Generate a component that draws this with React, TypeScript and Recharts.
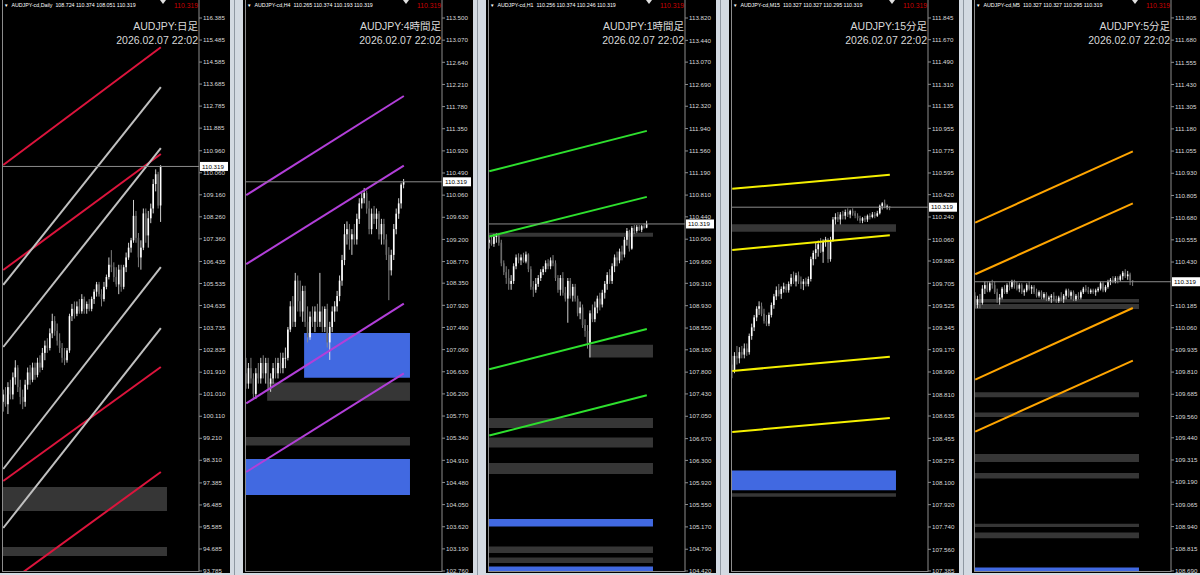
import { ComposedChart, Bar, XAxis, YAxis, ReferenceLine, ReferenceArea } from 'recharts'

type Candle = [number, number, number, number] // open, high, low, close
type Seg = [number, number, number, number] // fromIndex, fromPrice, toIndex, toPrice
type Zone = [number, number, number, number] // fromIndex, toIndex, low, high

const SLOTS = 80
const FONT = "'Liberation Sans', Arial, sans-serif"

// ---------- Daily ----------
const dailyCandles: Candle[] = [
  [100.7, 101.2, 100.3, 101.0], [101.0, 101.3, 100.5, 100.6], [100.6, 101.5, 100.2, 101.3], [101.3, 101.6, 100.8, 101.0],
  [101.0, 101.9, 100.8, 101.7], [101.7, 102.4, 101.4, 102.1], [102.1, 102.2, 101.1, 101.3], [101.3, 101.6, 100.6, 100.9],
  [100.9, 101.2, 100.4, 100.7], [100.7, 101.6, 100.5, 101.4], [101.4, 102.1, 101.2, 101.9], [101.9, 102.2, 101.4, 101.6],
  [101.6, 102.3, 101.5, 102.1], [102.1, 102.3, 101.6, 101.8], [101.8, 102.5, 101.7, 102.3], [102.3, 102.6, 101.9, 102.1],
  [102.1, 102.9, 102.0, 102.7], [102.7, 103.2, 102.4, 103.0], [103.0, 103.3, 102.7, 102.9], [102.9, 103.7, 102.8, 103.5],
  [103.5, 104.3, 103.3, 104.0], [104.0, 104.2, 103.4, 103.6], [103.6, 103.9, 103.0, 103.2], [103.2, 103.5, 102.7, 102.9],
  [102.9, 103.1, 102.3, 102.5], [102.5, 102.9, 102.2, 102.4], [102.4, 102.9, 102.3, 102.8], [102.8, 104.3, 102.7, 104.2],
  [104.2, 104.7, 104.0, 104.5], [104.5, 104.8, 104.1, 104.3], [104.3, 104.8, 104.2, 104.6], [104.6, 104.9, 104.3, 104.4],
  [104.4, 105.1, 104.3, 104.9], [104.9, 105.0, 104.3, 104.5], [104.5, 104.8, 104.3, 104.7], [104.7, 104.9, 104.4, 104.5],
  [104.5, 105.0, 104.4, 104.9], [104.9, 105.3, 104.7, 105.2], [105.2, 105.6, 105.0, 105.5], [105.5, 105.6, 105.0, 105.1],
  [105.1, 105.3, 104.6, 104.9], [104.9, 105.6, 104.8, 105.4], [105.4, 105.9, 105.3, 105.8], [105.8, 106.6, 105.7, 106.3],
  [106.3, 106.9, 106.0, 106.2], [106.2, 106.4, 105.6, 105.8], [105.8, 106.2, 105.4, 105.5], [105.5, 106.3, 105.1, 106.1],
  [106.1, 106.3, 105.2, 105.4], [105.4, 106.3, 105.3, 106.2], [106.2, 106.8, 106.0, 106.6], [106.6, 107.2, 106.5, 107.0],
  [107.0, 107.4, 106.8, 107.3], [107.3, 108.95, 107.2, 108.3], [108.3, 108.5, 107.2, 107.4], [107.4, 107.6, 106.2, 106.6],
  [106.6, 107.3, 106.1, 107.0], [107.0, 108.6, 106.9, 108.4], [108.4, 108.6, 107.2, 107.5], [107.5, 108.5, 107.0, 108.2],
  [108.2, 108.8, 108.0, 108.6], [108.6, 109.8, 108.4, 109.6], [109.6, 110.2, 109.3, 110.0], [110.0, 110.1, 108.6, 108.72],
  [108.724, 110.374, 108.051, 110.319],
]
const dailyTicks = [116.385, 115.485, 114.585, 113.685, 112.785, 111.885, 110.96, 110.06, 109.16, 108.26, 107.36, 106.435,
  105.535, 104.635, 103.735, 102.835, 101.91, 101.01, 100.11, 99.21, 98.31, 97.385, 96.485, 95.585, 94.685, 93.785]
const dailyDomain = [93.745, 117.121]
const dailyRedLines: Seg[] = [
  [0, 110.378, 64, 115.19], [0, 106.087, 64, 110.827], [0, 97.464, 64, 102.123], [0, 93.148, 64, 97.832],
]
const dailySilverLines: Seg[] = [
  [0, 105.474, 64, 113.565], [0, 102.94, 64, 111.072], [0, 97.954, 64, 106.209], [0, 95.543, 64, 103.716],
]
const dailyGrayZones: Zone[] = [[0, 66, 96.238, 97.219], [0, 66, 94.399, 94.767]]

// ---------- H4 ----------
const h4Candles: Candle[] = [
  [106.6, 106.9, 106.3, 106.4], [106.4, 106.8, 106.3, 106.7], [106.7, 106.9, 106.4, 106.5], [106.5, 106.6, 106.08, 106.2],
  [106.2, 106.7, 106.1, 106.6], [106.6, 106.8, 106.4, 106.5], [106.5, 106.9, 106.4, 106.8], [106.8, 106.95, 106.5, 106.6],
  [106.6, 106.9, 106.4, 106.8], [106.8, 106.9, 106.3, 106.4], [106.4, 106.6, 106.24, 106.5], [106.5, 106.8, 106.4, 106.7],
  [106.7, 106.9, 106.5, 106.6], [106.6, 106.9, 106.5, 106.8], [106.8, 107.0, 106.6, 106.7], [106.7, 107.0, 106.6, 106.9],
  [106.9, 107.1, 106.7, 106.9], [106.9, 107.5, 106.85, 107.45], [107.45, 108.0, 107.4, 107.9], [107.9, 108.1, 107.5, 107.6],
  [107.6, 108.55, 107.5, 108.4], [108.4, 108.5, 107.8, 108.0], [108.0, 108.4, 107.7, 107.8], [107.8, 108.3, 107.6, 108.2],
  [108.2, 108.3, 107.5, 107.6], [107.6, 107.9, 107.2, 107.3], [107.3, 107.8, 107.25, 107.7], [107.7, 107.9, 107.5, 107.6],
  [107.6, 107.9, 107.4, 107.8], [107.8, 107.95, 107.5, 107.6], [107.6, 108.55, 107.5, 107.8], [107.8, 107.9, 107.4, 107.5],
  [107.5, 107.9, 107.4, 107.85], [107.85, 107.95, 107.1, 107.2], [107.2, 107.6, 106.86, 107.5], [107.5, 107.9, 107.4, 107.8],
  [107.8, 108.0, 107.6, 107.9], [107.9, 108.2, 107.8, 108.1], [108.1, 108.5, 108.0, 108.4], [108.4, 108.9, 108.3, 108.8],
  [108.8, 109.5, 108.7, 109.3], [109.3, 109.55, 109.1, 109.4], [109.4, 109.5, 109.0, 109.2], [109.2, 109.4, 108.9, 109.3],
  [109.3, 109.5, 109.1, 109.2], [109.2, 109.7, 109.1, 109.6], [109.6, 110.0, 109.5, 109.9], [109.9, 110.1, 109.8, 110.0],
  [110.0, 110.2, 109.9, 110.1], [110.1, 110.15, 109.7, 109.8], [109.8, 109.95, 109.3, 109.4], [109.4, 109.8, 109.3, 109.7],
  [109.7, 109.85, 109.5, 109.6], [109.6, 109.8, 109.4, 109.7], [109.7, 109.75, 109.2, 109.3], [109.3, 109.6, 109.1, 109.5],
  [109.5, 109.6, 109.1, 109.2], [109.2, 109.3, 108.8, 108.9], [108.9, 109.05, 108.02, 108.6], [108.6, 109.0, 108.5, 108.9],
  [108.9, 109.5, 108.8, 109.4], [109.4, 109.8, 109.3, 109.7], [109.7, 110.0, 109.6, 109.9], [109.9, 110.3, 109.8, 110.265],
  [110.265, 110.374, 110.193, 110.319],
]
const h4Ticks = [113.5, 113.07, 112.64, 112.21, 111.78, 111.35, 110.92, 110.49, 110.06, 109.63, 109.2, 108.77, 108.35,
  107.92, 107.49, 107.06, 106.63, 106.2, 105.77, 105.34, 104.91, 104.48, 104.05, 103.62, 103.19, 102.76]
const h4Domain = [102.741, 113.85]
const h4Lines: Seg[] = [
  [0, 110.06, 64, 111.985], [0, 108.72, 64, 110.632], [0, 106.015, 64, 107.953], [0, 104.683, 64, 106.598],
]
const h4BlueZones: Zone[] = [[24, 66, 106.514, 107.382], [0, 66, 104.236, 104.935]]
const h4GrayZones: Zone[] = [[9, 66, 106.066, 106.421], [0, 66, 105.197, 105.362]]

// ---------- H1 ----------
const h1Candles: Candle[] = [
  [110.0, 110.1, 109.9, 110.05], [110.05, 110.12, 109.95, 109.98], [109.98, 110.15, 109.93, 110.1], [110.1, 110.16, 110.0, 110.12],
  [110.12, 110.15, 109.95, 110.0], [110.0, 110.05, 109.6, 109.65], [109.65, 109.7, 109.45, 109.5], [109.5, 109.6, 109.3, 109.4],
  [109.4, 109.55, 109.2, 109.3], [109.3, 109.45, 109.2, 109.35], [109.35, 109.65, 109.3, 109.6], [109.6, 109.8, 109.55, 109.75],
  [109.75, 109.82, 109.65, 109.7], [109.7, 109.8, 109.62, 109.75], [109.75, 109.83, 109.66, 109.68], [109.68, 109.85, 109.65, 109.8],
  [109.8, 109.82, 109.5, 109.55], [109.55, 109.6, 109.2, 109.25], [109.25, 109.35, 109.08, 109.2], [109.2, 109.4, 109.15, 109.3],
  [109.3, 109.45, 109.25, 109.4], [109.4, 109.55, 109.35, 109.5], [109.5, 109.6, 109.45, 109.55], [109.55, 109.7, 109.5, 109.65],
  [109.65, 109.72, 109.55, 109.6], [109.6, 109.75, 109.55, 109.7], [109.7, 109.79, 109.6, 109.65], [109.65, 109.7, 109.35, 109.4],
  [109.4, 109.45, 109.15, 109.2], [109.2, 109.45, 109.1, 109.4], [109.4, 109.5, 109.1, 109.15], [109.15, 109.25, 109.0, 109.05],
  [109.05, 109.4, 108.64, 109.35], [109.35, 109.4, 109.05, 109.1], [109.1, 109.3, 109.0, 109.25], [109.25, 109.3, 109.0, 109.05],
  [109.05, 109.1, 108.75, 108.8], [108.8, 109.0, 108.7, 108.9], [108.9, 108.95, 108.55, 108.6], [108.6, 108.7, 108.4, 108.5],
  [108.5, 108.6, 108.2, 108.3], [108.3, 108.85, 108.05, 108.8], [108.8, 108.95, 108.65, 108.7], [108.7, 109.0, 108.65, 108.9],
  [108.9, 109.1, 108.8, 109.05], [109.05, 109.15, 108.85, 108.95], [108.95, 109.2, 108.9, 109.15], [109.15, 109.35, 109.05, 109.3],
  [109.3, 109.5, 109.2, 109.45], [109.45, 109.55, 109.3, 109.35], [109.35, 109.65, 109.3, 109.6], [109.6, 109.8, 109.5, 109.75],
  [109.75, 109.85, 109.6, 109.7], [109.7, 109.9, 109.65, 109.85], [109.85, 109.95, 109.7, 109.8], [109.8, 110.1, 109.75, 110.05],
  [110.05, 110.25, 109.95, 110.2], [110.2, 110.22, 109.85, 109.9], [109.9, 110.28, 109.88, 110.25], [110.25, 110.3, 110.15, 110.2],
  [110.2, 110.3, 110.17, 110.27], [110.27, 110.3, 110.2, 110.22], [110.22, 110.3, 110.18, 110.28], [110.28, 110.33, 110.24, 110.256],
  [110.256, 110.374, 110.246, 110.319],
]
const h1Ticks = [113.82, 113.44, 113.07, 112.69, 112.32, 111.94, 111.56, 111.19, 110.81, 110.44, 110.06, 109.68, 109.31,
  108.93, 108.55, 108.18, 107.8, 107.43, 107.05, 106.67, 106.3, 105.92, 105.55, 105.17, 104.79, 104.42]
const h1Domain = [104.403, 114.126]
const h1Lines: Seg[] = [
  [0, 111.214, 64, 111.901], [0, 110.106, 64, 110.779], [0, 107.849, 64, 108.534], [0, 106.722, 64, 107.407],
]
const h1GrayZones: Zone[] = [
  [0, 66, 110.1, 110.17], [41, 66, 108.049, 108.267], [0, 66, 106.851, 107.021], [0, 66, 106.521, 106.689],
  [0, 66, 106.069, 106.256], [0, 66, 104.726, 104.838], [0, 66, 104.556, 104.651],
]
const h1BlueZones: Zone[] = [[0, 66, 105.175, 105.304], [0, 66, 104.35, 104.495]]

// ---------- M15 ----------
const m15Candles: Candle[] = [
  [109.05, 109.12, 108.94, 109.0], [109.0, 109.15, 108.98, 109.12], [109.12, 109.2, 109.05, 109.1], [109.1, 109.19, 109.06, 109.15],
  [109.15, 109.2, 109.1, 109.13], [109.13, 109.22, 109.1, 109.18], [109.18, 109.22, 109.12, 109.15], [109.15, 109.3, 109.13, 109.28],
  [109.28, 109.38, 109.25, 109.35], [109.35, 109.45, 109.32, 109.43], [109.43, 109.52, 109.4, 109.5], [109.5, 109.56, 109.45, 109.52],
  [109.52, 109.55, 109.44, 109.46], [109.46, 109.5, 109.38, 109.4], [109.4, 109.45, 109.36, 109.38], [109.38, 109.47, 109.36, 109.45],
  [109.45, 109.55, 109.43, 109.53], [109.53, 109.62, 109.5, 109.6], [109.6, 109.68, 109.57, 109.65], [109.65, 109.7, 109.6, 109.62],
  [109.62, 109.68, 109.58, 109.66], [109.66, 109.71, 109.63, 109.68], [109.68, 109.7, 109.63, 109.65], [109.65, 109.72, 109.63, 109.7],
  [109.7, 109.78, 109.68, 109.75], [109.75, 109.8, 109.7, 109.72], [109.72, 109.79, 109.68, 109.77], [109.77, 109.8, 109.7, 109.72],
  [109.72, 109.76, 109.66, 109.7], [109.7, 109.74, 109.65, 109.72], [109.72, 109.75, 109.68, 109.7], [109.7, 109.76, 109.68, 109.74],
  [109.74, 109.92, 109.72, 109.9], [109.9, 109.97, 109.85, 109.95], [109.95, 110.03, 109.9, 109.98], [109.98, 110.05, 109.92, 110.02],
  [110.02, 110.07, 109.95, 109.96], [109.96, 110.06, 109.87, 110.04], [110.04, 110.08, 110.0, 110.06], [110.06, 110.07, 109.87, 109.9],
  [109.9, 110.08, 109.88, 110.05], [110.05, 110.24, 110.04, 110.22], [110.22, 110.27, 110.18, 110.24], [110.24, 110.28, 110.2, 110.22],
  [110.22, 110.28, 110.18, 110.26], [110.26, 110.29, 110.22, 110.25], [110.25, 110.3, 110.22, 110.28], [110.28, 110.31, 110.24, 110.26],
  [110.26, 110.3, 110.23, 110.29], [110.29, 110.31, 110.25, 110.27], [110.27, 110.29, 110.23, 110.25], [110.25, 110.27, 110.21, 110.23],
  [110.23, 110.25, 110.19, 110.21], [110.21, 110.24, 110.19, 110.23], [110.23, 110.25, 110.2, 110.22], [110.22, 110.26, 110.2, 110.25],
  [110.25, 110.27, 110.22, 110.24], [110.24, 110.28, 110.23, 110.26], [110.26, 110.28, 110.23, 110.25], [110.25, 110.29, 110.24, 110.27],
  [110.27, 110.34, 110.26, 110.33], [110.33, 110.36, 110.3, 110.35], [110.35, 110.38, 110.31, 110.32], [110.32, 110.34, 110.3, 110.327],
  [110.327, 110.327, 110.295, 110.319],
]
const m15Ticks = [111.845, 111.67, 111.49, 111.31, 111.135, 110.955, 110.775, 110.595, 110.42, 110.24, 110.06, 109.885,
  109.705, 109.525, 109.345, 109.17, 108.99, 108.81, 108.635, 108.455, 108.275, 108.1, 107.92, 107.74, 107.56, 107.385]
const m15Domain = [107.377, 111.99]
const m15Lines: Seg[] = [
  [0, 110.467, 64, 110.58], [0, 109.974, 64, 110.092], [0, 108.998, 64, 109.113], [0, 108.506, 64, 108.619],
]
const m15GrayZones: Zone[] = [[0, 66, 110.121, 110.181], [0, 66, 107.983, 108.013]]
const m15BlueZones: Zone[] = [[0, 66, 108.036, 108.196]]

// ---------- M5 ----------
const m5Candles: Candle[] = [
  [110.24, 110.26, 110.17, 110.19], [110.19, 110.24, 110.17, 110.22], [110.22, 110.25, 110.17, 110.2], [110.2, 110.3, 110.19, 110.28],
  [110.28, 110.32, 110.25, 110.3], [110.3, 110.32, 110.26, 110.27], [110.27, 110.32, 110.26, 110.31], [110.31, 110.33, 110.28, 110.3],
  [110.3, 110.32, 110.25, 110.26], [110.26, 110.28, 110.2, 110.22], [110.22, 110.25, 110.19, 110.23], [110.23, 110.29, 110.22, 110.28],
  [110.28, 110.3, 110.25, 110.26], [110.26, 110.31, 110.25, 110.3], [110.3, 110.32, 110.27, 110.29], [110.29, 110.33, 110.28, 110.32],
  [110.32, 110.33, 110.28, 110.3], [110.3, 110.32, 110.27, 110.28], [110.28, 110.31, 110.26, 110.3], [110.3, 110.31, 110.25, 110.26],
  [110.26, 110.28, 110.24, 110.27], [110.27, 110.31, 110.26, 110.3], [110.3, 110.32, 110.27, 110.28], [110.28, 110.3, 110.25, 110.29],
  [110.29, 110.3, 110.25, 110.26], [110.26, 110.28, 110.23, 110.24], [110.24, 110.27, 110.23, 110.26], [110.26, 110.27, 110.22, 110.23],
  [110.23, 110.26, 110.22, 110.25], [110.25, 110.26, 110.21, 110.22], [110.22, 110.24, 110.21, 110.23], [110.23, 110.25, 110.2, 110.24],
  [110.24, 110.26, 110.21, 110.22], [110.22, 110.24, 110.2, 110.21], [110.21, 110.24, 110.2, 110.23], [110.23, 110.26, 110.21, 110.22],
  [110.22, 110.25, 110.2, 110.24], [110.24, 110.28, 110.22, 110.27], [110.27, 110.28, 110.23, 110.24], [110.24, 110.27, 110.22, 110.26],
  [110.26, 110.27, 110.21, 110.22], [110.22, 110.25, 110.21, 110.24], [110.24, 110.26, 110.22, 110.23], [110.23, 110.27, 110.22, 110.26],
  [110.26, 110.29, 110.25, 110.28], [110.28, 110.3, 110.26, 110.27], [110.27, 110.29, 110.25, 110.26], [110.26, 110.28, 110.25, 110.27],
  [110.27, 110.28, 110.25, 110.26], [110.26, 110.28, 110.24, 110.27], [110.27, 110.29, 110.26, 110.28], [110.28, 110.32, 110.27, 110.31],
  [110.31, 110.32, 110.26, 110.27], [110.27, 110.3, 110.26, 110.29], [110.29, 110.33, 110.28, 110.32], [110.32, 110.34, 110.3, 110.33],
  [110.33, 110.35, 110.31, 110.32], [110.32, 110.35, 110.31, 110.34], [110.34, 110.35, 110.31, 110.33], [110.33, 110.36, 110.32, 110.35],
  [110.35, 110.38, 110.33, 110.37], [110.37, 110.39, 110.34, 110.35], [110.35, 110.38, 110.33, 110.36], [110.36, 110.37, 110.3, 110.327],
  [110.327, 110.327, 110.295, 110.319],
]
const m5Ticks = [111.805, 111.68, 111.555, 111.43, 111.305, 111.18, 111.055, 110.93, 110.805, 110.68, 110.555, 110.43,
  110.185, 110.06, 109.935, 109.81, 109.685, 109.56, 109.44, 109.315, 109.19, 109.065, 108.94, 108.815, 108.69]
const m5Domain = [108.684, 111.906]
const m5Lines: Seg[] = [
  [0, 110.652, 64, 111.053], [0, 110.361, 64, 110.76], [0, 109.768, 64, 110.171], [0, 109.475, 64, 109.875],
]
const m5GrayZones: Zone[] = [
  [0, 66, 110.202, 110.222], [0, 66, 110.166, 110.194], [0, 66, 109.669, 109.696], [0, 66, 109.557, 109.583],
  [0, 66, 109.304, 109.349], [0, 66, 109.211, 109.242], [0, 66, 108.937, 108.956], [0, 66, 108.874, 108.906],
]
const m5BlueZones: Zone[] = [[0, 66, 108.6, 108.71]]

const GRAY_ZONE = '#363636'
const BLUE_ZONE = '#4169e1'

const panels = [
  { id: 'd1', symbol: 'AUDJPY-cd,Daily', title: 'AUDJPY:日足', candles: dailyCandles, ticks: dailyTicks, domain: dailyDomain,
    lineSets: [{ color: '#dc143c', lines: dailyRedLines }, { color: '#c0c0c0', lines: dailySilverLines }],
    gray: dailyGrayZones, blue: [] as Zone[] },
  { id: 'h4', symbol: 'AUDJPY-cd,H4', title: 'AUDJPY:4時間足', candles: h4Candles, ticks: h4Ticks, domain: h4Domain,
    lineSets: [{ color: '#b23fd9', lines: h4Lines }], gray: h4GrayZones, blue: h4BlueZones },
  { id: 'h1', symbol: 'AUDJPY-cd,H1', title: 'AUDJPY:1時間足', candles: h1Candles, ticks: h1Ticks, domain: h1Domain,
    lineSets: [{ color: '#2ee02e', lines: h1Lines }], gray: h1GrayZones, blue: h1BlueZones },
  { id: 'm15', symbol: 'AUDJPY-cd,M15', title: 'AUDJPY:15分足', candles: m15Candles, ticks: m15Ticks, domain: m15Domain,
    lineSets: [{ color: '#f5f000', lines: m15Lines }], gray: m15GrayZones, blue: m15BlueZones },
  { id: 'm5', symbol: 'AUDJPY-cd,M5', title: 'AUDJPY:5分足', candles: m5Candles, ticks: m5Ticks, domain: m5Domain,
    lineSets: [{ color: '#ffa500', lines: m5Lines }], gray: m5GrayZones, blue: m5BlueZones },
]

function buildRows(candles: Candle[]) {
  const rows: any[] = []
  for (let i = 0; i < SLOTS; i++) {
    const c = candles[i]
    if (c) rows.push({ i, o: c[0], h: c[1], l: c[2], c: c[3], range: [c[2], c[1]] })
    else rows.push({ i, range: null })
  }
  return rows
}

const CandleShape = (props: any) => {
  const { x, y, width, height, payload } = props
  if (!payload || payload.o === undefined || !Number.isFinite(y)) return <g />
  const { o, h, l, c } = payload
  const k = h > l ? height / (h - l) : 0
  const cx = x + width / 2
  const yo = y + (h - o) * k
  const yc = y + (h - c) * k
  const up = c >= o
  const top = Math.min(yo, yc)
  const bh = Math.max(Math.abs(yc - yo), 0.8)
  return (
    <g>
      <line x1={cx} x2={cx} y1={y} y2={y + height} stroke={up ? '#e6e6e6' : '#8a8a8a'} strokeWidth={0.9} />
      <rect x={cx - 0.8} y={top} width={1.6} height={bh} fill={up ? '#ffffff' : '#6a6a6a'} />
    </g>
  )
}

function Panel({ p, left }: { p: (typeof panels)[number]; left: number }) {
  const rows = buildRows(p.candles)
  const last = p.candles[p.candles.length - 1]
  const priceTag = (lp: any) => {
    const vb = lp.viewBox || {}
    const x = (vb.x ?? 0) + (vb.width ?? 0) + 1
    const y = vb.y ?? 0
    return (
      <g>
        <rect x={x} y={y - 4.5} width={28} height={9} fill="#ffffff" />
        <text x={x + 2} y={y + 2.2} fontSize={6.2} fontFamily={FONT} fill="#000">{last[3].toFixed(3)}</text>
      </g>
    )
  }
  return (
    <div style={{ position: 'absolute', left, top: 0, width: 230, height: 573, background: '#000', overflow: 'hidden' }}>
      <ComposedChart width={230} height={575} data={rows} margin={{ top: 0, right: 0, bottom: 3, left: 2 }}>
        <XAxis dataKey="i" hide />
        <YAxis
          orientation="right"
          width={31}
          type="number"
          domain={p.domain}
          allowDataOverflow
          ticks={p.ticks}
          interval={0}
          tickFormatter={(v: number) => v.toFixed(3)}
          tick={{ fill: '#dadada', fontSize: 6.2, fontFamily: FONT }}
          tickSize={3}
          tickMargin={1}
          axisLine={{ stroke: '#8c8c8c' }}
          tickLine={{ stroke: '#8c8c8c' }}
        />
        {p.gray.map((z, k) => (
          <ReferenceArea key={`g${k}`} x1={z[0]} x2={z[1]} y1={z[2]} y2={z[3]} fill={GRAY_ZONE} fillOpacity={1}
            stroke="none" ifOverflow="hidden" />
        ))}
        {p.blue.map((z, k) => (
          <ReferenceArea key={`b${k}`} x1={z[0]} x2={z[1]} y1={z[2]} y2={z[3]} fill={BLUE_ZONE} fillOpacity={1}
            stroke="none" ifOverflow="hidden" />
        ))}
        {p.lineSets.map((set, si) =>
          set.lines.map((s, k) => (
            <ReferenceLine key={`l${si}-${k}`} segment={[{ x: s[0], y: s[1] }, { x: s[2], y: s[3] }]}
              stroke={set.color} strokeWidth={2} ifOverflow="hidden" />
          ))
        )}
        <ReferenceLine y={last[3]} stroke="#8c8c8c" strokeWidth={1} label={priceTag} />
        <Bar dataKey="range" shape={CandleShape} barSize={2} isAnimationActive={false} />
      </ComposedChart>
      {/* plot frame left & bottom */}
      <div style={{ position: 'absolute', left: 2, top: 0, width: 197, height: 572, borderLeft: '1px solid #8c8c8c',
        borderBottom: '1px solid #8c8c8c', boxSizing: 'border-box', pointerEvents: 'none' }} />
      <div style={{ position: 'absolute', left: 4, top: 2, fontFamily: FONT, fontSize: 5.3, color: '#fff', whiteSpace: 'nowrap' }}>
        <span style={{ fontSize: 4.5 }}>▼</span>&nbsp;&nbsp;{p.symbol}&nbsp;&nbsp;{last.map((v) => v.toFixed(3)).join(' ')}
      </div>
      <div style={{ position: 'absolute', left: 160, top: 0, width: 0, height: 0, borderLeft: '3.5px solid transparent',
        borderRight: '3.5px solid transparent', borderTop: '4px solid #e0e0e0' }} />
      <div style={{ position: 'absolute', right: 32, top: 2, fontFamily: FONT, fontSize: 6.8, color: '#c80000' }}>
        {last[3].toFixed(3)}
      </div>
      <div style={{ position: 'absolute', right: 32, top: 19, fontFamily: "'Liberation Sans', 'Noto Sans CJK JP', sans-serif",
        fontSize: 10.5, color: '#d8d8d8', textAlign: 'right', lineHeight: '14px', whiteSpace: 'nowrap' }}>
        <div>{p.title}</div>
        <div>2026.02.07 22:02</div>
      </div>
    </div>
  )
}

export default function App() {
  const lefts = [0, 243, 486, 729, 972]
  return (
    <div style={{ position: 'fixed', left: 0, top: 0, width: 1200, height: 575, background: '#d3dae2', overflow: 'hidden' }}>
      {lefts.slice(1).map((l) => (
        <div key={l} style={{ position: 'absolute', left: l - 9, top: 0, width: 1, height: 575, background: '#8f98a2' }} />
      ))}
      {panels.map((p, k) => (
        <Panel key={p.id} p={p} left={lefts[k]} />
      ))}
    </div>
  )
}
